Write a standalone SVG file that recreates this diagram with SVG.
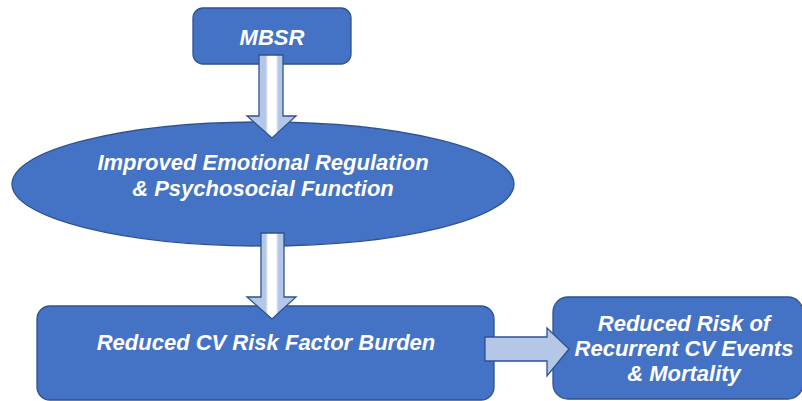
<svg xmlns="http://www.w3.org/2000/svg" width="802" height="401" viewBox="0 0 802 401">
<defs>
<style>
.node{fill:#4472c4;stroke:#2f528f;stroke-width:1.3}
.lbl{fill:#fff;font-family:"Liberation Sans",Arial,sans-serif;font-weight:bold;font-style:italic;font-size:22px;text-anchor:middle}
.arr{stroke:#2f528f;stroke-width:1.3;stroke-linejoin:miter}
</style>
<linearGradient id="stripe" x1="0" y1="0" x2="1" y2="0">
<stop offset="0" stop-color="#b4c7e7"/>
<stop offset="0.38" stop-color="#b4c7e7"/>
<stop offset="0.43" stop-color="#ffffff"/>
<stop offset="0.59" stop-color="#ffffff"/>
<stop offset="0.64" stop-color="#b4c7e7"/>
<stop offset="1" stop-color="#b4c7e7"/>
</linearGradient>
</defs>
<g id="mbsr">
<rect class="node" x="193" y="8" width="158" height="56" rx="10"/>
<text class="lbl" x="272" y="45">MBSR</text>
</g>
<g id="emotional">
<ellipse class="node" cx="263" cy="184" rx="251" ry="62"/>
<text class="lbl" x="263" y="170">Improved Emotional Regulation</text>
<text class="lbl" x="263" y="196">&amp; Psychosocial Function</text>
</g>
<g id="riskfactor">
<rect class="node" x="37" y="306" width="457" height="94" rx="13"/>
<text class="lbl" x="266" y="350">Reduced CV Risk Factor Burden</text>
</g>
<g id="outcome">
<rect class="node" x="553" y="297" width="250" height="102" rx="15"/>
<text class="lbl" x="684" y="331">Reduced Risk of</text>
<text class="lbl" x="684" y="356">Recurrent CV Events</text>
<text class="lbl" x="684" y="381">&amp; Mortality</text>
</g>
<g id="connectors">
<path class="arr" fill="url(#stripe)" d="M259,55 H283 V116 H296 L272,138 L247,116 H259 Z"/>
<path class="arr" fill="url(#stripe)" d="M261,233 H284 V297 H296 L272,319 L247,297 H261 Z"/>
<path class="arr" fill="#b4c7e7" d="M485,337 H547 V328 L569,349 L547,376 V361 H485 Z"/>
</g>
</svg>
